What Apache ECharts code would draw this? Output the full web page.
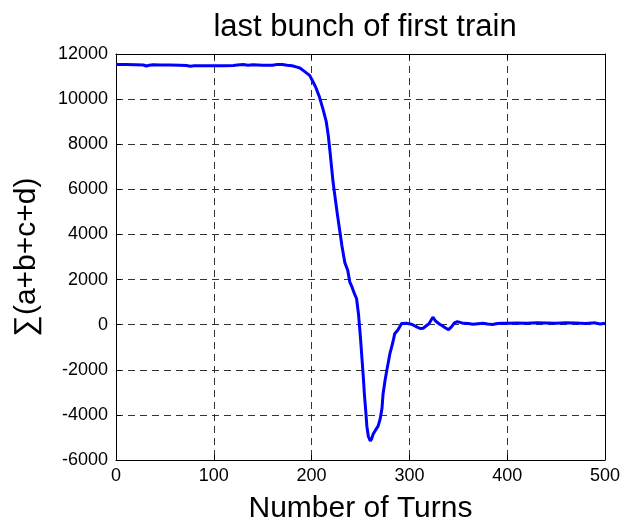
<!DOCTYPE html>
<html>
<head>
<meta charset="utf-8">
<script src="https://cdn.jsdelivr.net/npm/echarts@6/dist/echarts.min.js"></script>
<style>
  html, body { margin: 0; padding: 0; background: #fff; }
  #chart { width: 625px; height: 529px; }
</style>
</head>
<body>
<div id="chart"></div>
<script>
// Turn numbers and the summed signal at each turn
var turns = [0, 10, 20, 28, 31, 34, 38, 45, 55, 65, 72, 76, 80, 90, 100, 110, 120, 124, 130, 135,
  140, 150, 155, 160, 165, 170, 175, 180, 185, 188, 192, 195, 198, 201, 204, 208, 212, 215, 217, 219,
  222, 226, 229, 231, 234, 237, 239, 241, 244, 246, 248, 250, 251, 253, 254, 255.5, 256.5, 258, 260, 261.5,
  263, 265, 268, 270, 272, 273, 275, 277, 280, 283, 285, 288, 290, 292, 294, 297, 299, 302, 305, 308,
  311, 314, 317, 320, 322, 324, 325.5, 327, 329, 331, 334, 337, 340, 343, 346, 349, 352, 355, 360, 365,
  370, 375, 380, 385, 390, 395, 400, 410, 420, 430, 440, 450, 460, 470, 480, 490, 495, 500];
var sumValues = [11530, 11530, 11520, 11510, 11470, 11500, 11520, 11510, 11510, 11500, 11490, 11460, 11480, 11480, 11480, 11480, 11490, 11510, 11530, 11500,
  11520, 11500, 11500, 11500, 11540, 11530, 11500, 11480, 11420, 11380, 11250, 11150, 11050, 10800, 10550, 10100, 9500, 9000, 8400, 7600,
  6300, 5000, 4100, 3500, 2750, 2400, 1900, 1700, 1350, 1150, 450, -600, -1200, -2400, -3100, -3900, -4500, -4950, -5150, -5050,
  -4850, -4700, -4500, -4200, -3700, -3100, -2500, -2000, -1300, -800, -400, -250, -100, 50, 120, 60, 50, 20, -40, -110,
  -170, -160, -60, 40, 80, 330, 260, 150, 80, 20, -60, -150, -220, -100, 80, 130, 100, 60, 50, 20,
  40, 60, 30, 10, 50, 60, 60, 70, 60, 80, 70, 60, 80, 70, 50, 80, 30, 60];

var xTicks = [0, 100, 200, 300, 400, 500];
var yTicks = [-6000, -4000, -2000, 0, 2000, 4000, 6000, 8000, 10000, 12000];

var points = turns.map(function (t, i) { return [t, sumValues[i]]; });

var font = 'Liberation Sans, Arial, sans-serif';
var gridDash = { show: true, lineStyle: { color: '#333', type: [7, 5], width: 1 } };
var frame = { show: true, onZero: false, lineStyle: { color: '#000', width: 1 } };
var inTicks = { show: true, inside: true, length: 5, lineStyle: { color: '#000' } };
var plain = function (v) { return String(v); };

var chart = echarts.init(document.getElementById('chart'), null, { renderer: 'canvas' });
chart.setOption({
  animation: false,
  backgroundColor: '#fff',
  title: {
    text: 'last bunch of first train',
    left: 360, top: 7, textAlign: 'center',
    textStyle: { fontFamily: font, fontSize: 31, fontWeight: 'normal', color: '#000' }
  },
  grid: { left: 116, right: 20, top: 54, bottom: 65 },
  xAxis: [{
    type: 'value', min: xTicks[0], max: xTicks[xTicks.length - 1], interval: 100,
    name: 'Number of Turns', nameLocation: 'middle', nameGap: 34,
    nameTextStyle: { fontFamily: font, fontSize: 30, color: '#000' },
    axisLine: frame, axisTick: inTicks, splitLine: gridDash,
    axisLabel: { fontFamily: font, fontSize: 18, color: '#000', margin: 7, formatter: plain }
  }, {
    type: 'value', position: 'top', min: xTicks[0], max: xTicks[xTicks.length - 1], interval: 100,
    axisLine: frame, axisTick: inTicks, axisLabel: { show: false }, splitLine: { show: false }
  }],
  yAxis: [{
    type: 'value', min: yTicks[0], max: yTicks[yTicks.length - 1], interval: 2000,
    name: '\u2211(a+b+c+d)', nameLocation: 'middle', nameGap: 74,
    nameTextStyle: { fontFamily: font, fontSize: 30, color: '#000' },
    axisLine: frame, axisTick: inTicks, splitLine: gridDash,
    axisLabel: { fontFamily: font, fontSize: 18, color: '#000', margin: 8, formatter: plain }
  }, {
    type: 'value', position: 'right', min: yTicks[0], max: yTicks[yTicks.length - 1], interval: 2000,
    axisLine: frame, axisTick: inTicks, axisLabel: { show: false }, splitLine: { show: false }
  }],
  series: [{
    type: 'line',
    data: points,
    showSymbol: false,
    lineStyle: { color: '#0000ff', width: 3 },
    itemStyle: { color: '#0000ff' }
  }]
});
</script>
</body>
</html>
